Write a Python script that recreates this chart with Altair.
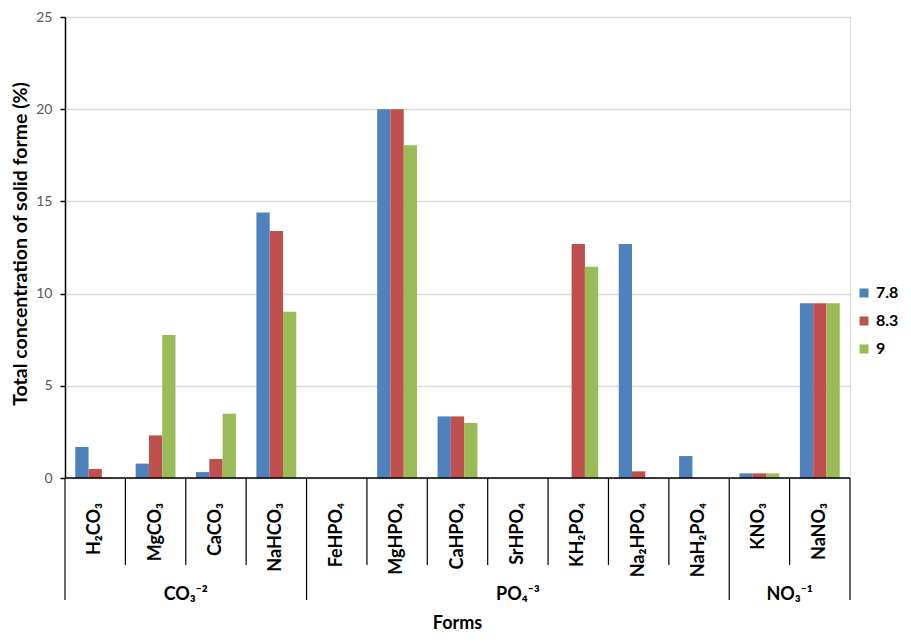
import altair as alt
import pandas as pd

# ---- data ----
forms = ["H₂CO₃", "MgCO₃", "CaCO₃", "NaHCO₃", "FeHPO₄", "MgHPO₄", "CaHPO₄",
         "SrHPO₄", "KH₂PO₄", "Na₂HPO₄", "NaH₂PO₄", "KNO₃", "NaNO₃"]
series = ["7.8", "8.3", "9"]
ph_7_8 = [1.68, 0.78, 0.32, 14.4, 0, 20.0, 3.34, 0, 0, 12.69, 1.19, 0.25, 9.48]
ph_8_3 = [0.49, 2.31, 1.03, 13.39, 0, 20.0, 3.34, 0, 12.69, 0.36, 0, 0.25, 9.48]
ph_9 = [0.02, 7.75, 3.48, 9.01, 0, 18.05, 2.99, 0, 11.46, 0.02, 0, 0.25, 9.48]
groups = ["CO₃⁻²", "PO₄⁻³", "NO₃⁻¹"]
group_sizes = [4, 7, 2]
y_ticks = [0, 5, 10, 15, 20, 25]
colors = ["#4F81BD", "#C0504D", "#9BBB59"]

W, H = 785, 461
FONT = "Lato"
N = len(forms)

rows = []
for i, f in enumerate(forms):
    for s, vals in zip(series, [ph_7_8, ph_8_3, ph_9]):
        rows.append({"form": f, "series": s, "value": vals[i]})
bars_df = pd.DataFrame(rows)

# boundaries
group_edges = [0]
for g in group_sizes:
    group_edges.append(group_edges[-1] + g)
inner_edges = [i for i in range(1, N) if i not in group_edges]
group_centers = [(group_edges[k] + group_edges[k + 1]) / 2 for k in range(len(groups))]

xband = alt.Scale(domain=forms, paddingInner=0.34, paddingOuter=0.17)
xlin = alt.Scale(domain=[0, N], nice=False, zero=False)

bars = alt.Chart(bars_df).mark_bar().encode(
    x=alt.X("form:N", sort=forms, scale=xband, axis=None),
    xOffset=alt.XOffset("series:N", sort=series,
                        scale=alt.Scale(paddingInner=0, paddingOuter=0)),
    y=alt.Y("value:Q", scale=alt.Scale(domain=[0, 25], nice=False),
            axis=alt.Axis(values=y_ticks, title="Total concentration of solid forme (%)",
                          grid=True, gridColor="#d9d9d9", gridWidth=1.5,
                          domainColor="#000000", domainWidth=1.5,
                          tickColor="#000000", tickSize=5, tickWidth=1.5,
                          labelColor="#595959", labelFontSize=14, labelFont=FONT,
                          labelPadding=8,
                          titleFont=FONT, titleFontSize=19.5, titleFontWeight="bold",
                          titleColor="#000000", titleAngle=270, titleX=-45,
                          titleY=H / 2 - 4, titleBaseline="middle", titleAlign="center")),
    color=alt.Color("series:N", scale=alt.Scale(domain=series, range=colors),
                    legend=alt.Legend(title=None, orient="none", legendX=W + 6,
                                      legendY=268, symbolType="square",
                                      symbolSize=81, symbolStrokeWidth=0,
                                      labelFont=FONT, labelFontSize=16,
                                      labelFontWeight="bold", labelColor="#000000",
                                      rowPadding=12, labelOffset=4)),
)

labels = alt.Chart(pd.DataFrame({"form": forms})).mark_text(
    angle=270, align="right", baseline="middle", font=FONT, fontSize=18,
    fontWeight="bold", color="#000000"
).encode(
    x=alt.X("form:N", sort=forms, scale=xband, axis=None),
    y=alt.value(H + 25),
    text="form:N",
)

baseline = alt.Chart(pd.DataFrame({"a": [0], "b": [N]})).mark_rule(
    color="#000000", strokeWidth=1.5
).encode(
    x=alt.X("a:Q", scale=xlin, axis=None), x2="b:Q", y=alt.value(H)
)

inner_rules = alt.Chart(pd.DataFrame({"pos": inner_edges})).mark_rule(
    color="#000000", strokeWidth=1.2
).encode(
    x=alt.X("pos:Q", scale=xlin, axis=None), y=alt.value(H), y2=alt.value(H + 87)
)

group_rules = alt.Chart(pd.DataFrame({"pos": group_edges})).mark_rule(
    color="#000000", strokeWidth=1.2
).encode(
    x=alt.X("pos:Q", scale=xlin, axis=None), y=alt.value(H), y2=alt.value(H + 122)
)

group_labels = alt.Chart(pd.DataFrame({"pos": group_centers, "name": groups})).mark_text(
    font=FONT, fontSize=18, fontWeight="bold", color="#000000", baseline="middle"
).encode(
    x=alt.X("pos:Q", scale=xlin, axis=None), y=alt.value(H + 117), text="name:N"
)

xtitle = alt.Chart(pd.DataFrame({"t": ["Forms"]})).mark_text(
    font=FONT, fontSize=18, fontWeight="bold", color="#000000", baseline="alphabetic"
).encode(x=alt.value(W / 2), y=alt.value(H + 151), text="t:N")

chart = alt.layer(
    bars, labels, baseline, inner_rules, group_rules, group_labels, xtitle
).resolve_scale(x="independent").properties(
    width=W, height=H,
    autosize=alt.AutoSizeParams(type="none"),
    padding={"left": 57, "top": 9, "right": 53, "bottom": 156},
).configure_view(stroke=None).configure(background="white")

chart.save("out.html", embed_options={"renderer": "svg", "actions": False})
